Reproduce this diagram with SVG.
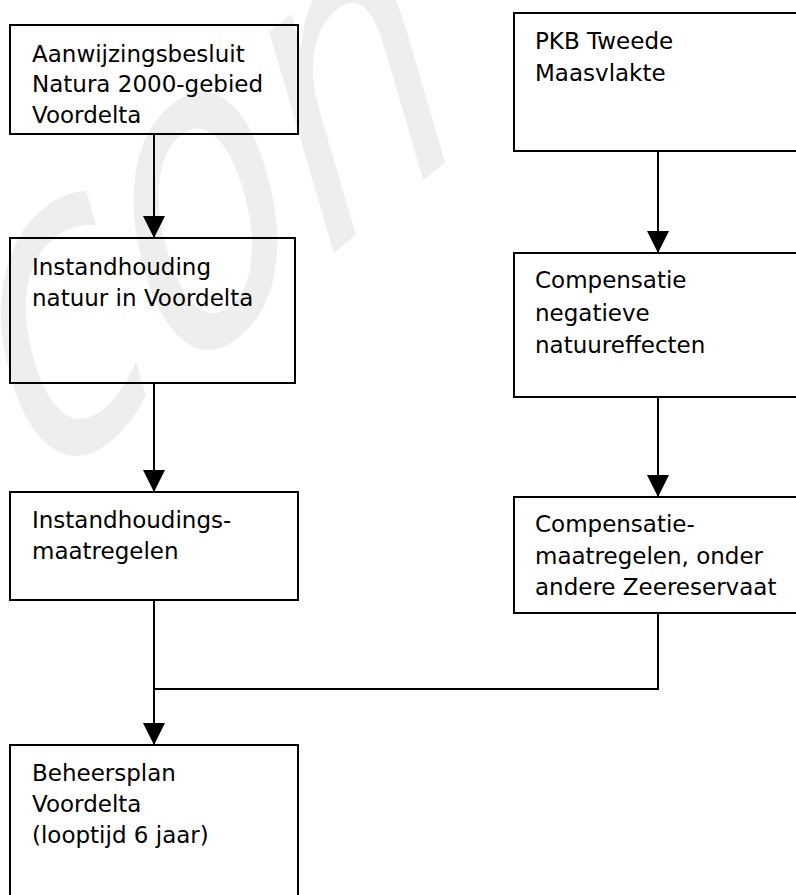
<svg xmlns="http://www.w3.org/2000/svg" width="796" height="895" viewBox="0 0 796 895">
  <defs>
    <style>
      .box { fill: none; stroke: #000; stroke-width: 2; }
      .lbl { font-family: "DejaVu Sans", "Liberation Sans", sans-serif; font-size: 23px; fill: #000; }
      .wire { fill: none; stroke: #000; stroke-width: 2; }
      .wm { font-family: "DejaVu Sans", sans-serif; font-weight: normal; fill: #eeeeee; }
    </style>
    <marker id="arrow" markerUnits="userSpaceOnUse" markerWidth="22" markerHeight="22" viewBox="0 0 20 20" refX="20" refY="10" orient="auto">
      <path d="M0,0 L20,10 L0,20 Z" fill="#000"/>
    </marker>
  </defs>
  <rect x="0" y="0" width="796" height="895" fill="#fff"/>

  <g id="watermark">
    <text class="wm" font-size="450" transform="translate(30,500) scale(0.6,1) rotate(-26)">con</text>
  </g>

  <g id="connectors">
    <line class="wire" x1="154" y1="134" x2="154" y2="238" marker-end="url(#arrow)"/>
    <line class="wire" x1="154" y1="383" x2="154" y2="492" marker-end="url(#arrow)"/>
    <line class="wire" x1="154" y1="601" x2="154" y2="745" marker-end="url(#arrow)"/>
    <polyline class="wire" points="658,613 658,689 154,689"/>
    <line class="wire" x1="658" y1="151" x2="658" y2="253" marker-end="url(#arrow)"/>
    <line class="wire" x1="658" y1="397" x2="658" y2="497" marker-end="url(#arrow)"/>
  </g>

  <g id="n1">
    <rect class="box" x="10" y="25" width="288" height="109"/>
    <text class="lbl" x="32" y="62">Aanwijzingsbesluit</text>
    <text class="lbl" x="32" y="92">Natura 2000-gebied</text>
    <text class="lbl" x="32" y="123">Voordelta</text>
  </g>
  <g id="n2">
    <rect class="box" x="10" y="238" width="285" height="145"/>
    <text class="lbl" x="32" y="275">Instandhouding</text>
    <text class="lbl" x="32" y="306">natuur in Voordelta</text>
  </g>
  <g id="n3">
    <rect class="box" x="10" y="492" width="288" height="108"/>
    <text class="lbl" x="32" y="528">Instandhoudings-</text>
    <text class="lbl" x="32" y="559">maatregelen</text>
  </g>
  <g id="n4">
    <rect class="box" x="10" y="745" width="288" height="200"/>
    <text class="lbl" x="32" y="781">Beheersplan</text>
    <text class="lbl" x="32" y="812">Voordelta</text>
    <text class="lbl" x="32" y="843">(looptijd 6 jaar)</text>
  </g>
  <g id="n5">
    <rect class="box" x="514" y="13" width="300" height="138"/>
    <text class="lbl" x="535" y="49">PKB Tweede</text>
    <text class="lbl" x="535" y="81">Maasvlakte</text>
  </g>
  <g id="n6">
    <rect class="box" x="514" y="253" width="300" height="144"/>
    <text class="lbl" x="535" y="288">Compensatie</text>
    <text class="lbl" x="535" y="321">negatieve</text>
    <text class="lbl" x="535" y="353">natuureffecten</text>
  </g>
  <g id="n7">
    <rect class="box" x="514" y="497" width="300" height="116"/>
    <text class="lbl" x="535" y="532">Compensatie-</text>
    <text class="lbl" x="535" y="564">maatregelen, onder</text>
    <text class="lbl" x="535" y="595">andere Zeereservaat</text>
  </g>
</svg>
